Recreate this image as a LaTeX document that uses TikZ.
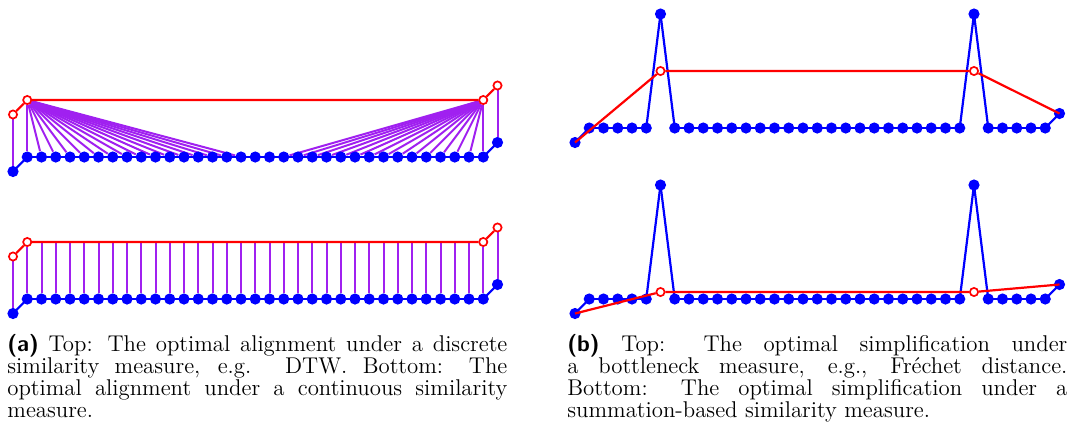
\documentclass[tikz,border=0pt]{standalone}
\usetikzlibrary{calc}
\definecolor{pur}{RGB}{160,32,240}
\pgfdeclarelayer{background}
\pgfdeclarelayer{foreground}
\pgfsetlayers{background,main,foreground}
\begin{document}
\begin{tikzpicture}[x=0.5pt,y=-0.5pt,
  bdot/.style={circle,fill=blue,inner sep=0pt,minimum size=5.6pt},
  rdot/.style={circle,draw=red,fill=white,line width=0.85pt,inner sep=0pt,minimum size=4.1pt},
  bline/.style={blue,line width=1.1pt},
  rline/.style={red,line width=1.1pt},
  pline/.style={pur,line width=1pt},
  capt/.style={anchor=base west,inner sep=0pt,text width=250pt,align=justify,
    font=\fontsize{11.4pt}{11.15pt}\selectfont}
]
\useasboundingbox (0,0) rectangle (1073,436);

% blue curve points
\foreach \p/\xo/\base/\pk in {A/13/157/0, B/13/299/0, C/575/128/1, D/575/299/1}{
  \foreach \i in {0,...,34}{
    \pgfmathsetmacro\xx{\xo+14.25*\i}
    \pgfmathsetmacro\yy{\base+(\i==0)*14.5-(\i==34)*14.5-\pk*((\i==6)+(\i==28))*114}
    \node[bdot] (\p\i) at (\xx,\yy) {};
  }
}

% red simplification vertices
\begin{pgfonlayer}{foreground}
\foreach \p/\base in {A/157, B/299}{
  \node[rdot] (R\p0) at ($(\p0.center)+(0,-57)$) {};
  \node[rdot] (R\p1) at ($(\p1.center)+(0,-57)$) {};
  \node[rdot] (R\p2) at ($(\p33.center)+(0,-57)$) {};
  \node[rdot] (R\p3) at ($(\p34.center)+(0,-57)$) {};
  \draw[rline] (R\p0) -- (R\p1) -- (R\p2) -- (R\p3);
}
\node[rdot] (RC1) at (C6 |- 0,71) {};
\node[rdot] (RC2) at (C28 |- 0,71) {};
\draw[rline] (C0.center) -- (RC1) -- (RC2) -- (C34.center);
\node[rdot] (RD1) at (D6 |- 0,292) {};
\node[rdot] (RD2) at (D28 |- 0,292) {};
\draw[rline] (D0.center) -- (RD1) -- (RD2) -- (D34.center);
\end{pgfonlayer}

\begin{pgfonlayer}{background}
% alignments, discrete
\draw[pline] (RA0) -- (A0);
\foreach \i in {1,...,16} \draw[pline] (RA1) -- (A\i);
\foreach \i in {19,...,33} \draw[pline] (RA2) -- (A\i);
\draw[pline] (RA3) -- (A34);
% alignments, continuous
\draw[pline] (RB0) -- (B0);
\draw[pline] (RB1) -- (B1);
\foreach \i in {2,...,32}{
  \coordinate (tB\i) at (B\i |- RB1.center);
  \draw[pline] (tB\i) -- (B\i);
}
\draw[pline] (RB2) -- (B33);
\draw[pline] (RB3) -- (B34);
% blue curves
\foreach \p in {A,B,C,D}{
  \foreach \i [evaluate=\i as \j using int(\i+1)] in {0,...,33}
    \draw[bline] (\p\i.center) -- (\p\j.center);
}
\end{pgfonlayer}

% captions
\node[capt] (capa) at (7,351) {\textsf{\textbf{(a)}} Top: The optimal alignment under a discrete\linebreak
similarity measure, e.g. DTW. Bottom: The\linebreak
optimal alignment under a continuous similarity\linebreak
measure.};
\node[capt] (capb) at (567,351) {\textsf{\textbf{(b)}} Top: The optimal simplification under\linebreak
a bottleneck measure, e.g., Fréchet distance.\linebreak
Bottom: The optimal simplification under a\linebreak
summation-based similarity measure.};
\end{tikzpicture}
\end{document}
